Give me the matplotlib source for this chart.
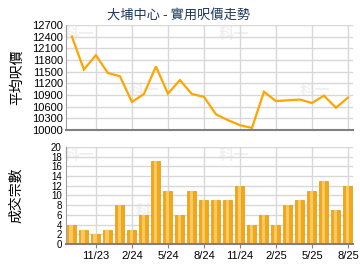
import matplotlib
matplotlib.use('Agg')
import matplotlib.pyplot as plt
import numpy as np

plt.rcParams['font.family'] = ['Liberation Sans', 'Noto Sans CJK TC', 'DejaVu Sans']

months = ['9/23', '10/23', '11/23', '12/23', '1/24', '2/24', '3/24', '4/24', '5/24', '6/24',
          '7/24', '8/24', '9/24', '10/24', '11/24', '12/24', '1/25', '2/25', '3/25', '4/25',
          '5/25', '6/25', '7/25', '8/25']
price = [12400, 11550, 11920, 11460, 11380, 10720, 10920, 11630, 10930, 11280,
         10920, 10850, 10400, 10250, 10120, 10050, 10980, 10740, 10760, 10780,
         10690, 10880, 10570, 10830]
deals = [4, 3, 2, 3, 8, 3, 6, 17, 11, 6, 11, 9, 9, 9, 12, 4, 6, 4, 8, 9, 11, 13, 7, 12]
tick_labels = ['11/23', '2/24', '5/24', '8/24', '11/24', '2/25', '5/25', '8/25']

x = np.arange(len(months))
tick_pos = [months.index(m) for m in tick_labels]

fig = plt.figure(figsize=(3.6, 2.7), dpi=100)
ax1 = fig.add_axes([0.183, 0.519, 0.797, 0.389])
ax2 = fig.add_axes([0.183, 0.096, 0.797, 0.360])

fig.text(0.497, 0.945, '大埔中心 - 實用呎價走勢', ha='center', va='center',
         fontsize=9.5, color='#1f3a5a', family=['Noto Sans CJK TC', 'DejaVu Sans'])

# faint watermarks, behind the axes
for wx, wy in [(0.22, 0.875), (0.65, 0.875), (0.40, 0.665), (0.875, 0.665),
               (0.22, 0.425), (0.65, 0.425), (0.42, 0.22), (0.88, 0.22)]:
    fig.text(wx, wy, '科一', fontsize=11, color='#f0f0f0', fontweight='bold',
             ha='center', va='center', family=['Noto Sans CJK TC'], zorder=-5)

for ax in (ax1, ax2):
    ax.patch.set_alpha(0)
    ax.set_xlim(-0.5, 23.4)
    ax.set_xticks(tick_pos)
    ax.grid(True, color='#d8d8d8', lw=1)
    ax.set_axisbelow(True)
    for s in ('top', 'right'):
        ax.spines[s].set_visible(False)
    ax.spines['left'].set_color('#a0a0a0')
    ax.spines['bottom'].set_color('#808080')
    ax.spines['bottom'].set_linewidth(1.5)
    ax.tick_params(axis='y', length=0, pad=2)
    ax.tick_params(axis='x', length=3, color='#808080', labelsize=8, pad=2)

ax1.plot(x, price, color='#FFA500', lw=1.6, solid_joinstyle='miter')
ax1.set_ylim(10000, 12700)
ax1.set_yticks(np.arange(10000, 12701, 300))
ax1.tick_params(axis='y', labelsize=8)
ax1.tick_params(axis='x', length=0, labelbottom=False)
ax1.set_ylabel('平均呎價', fontsize=10, family=['Noto Sans CJK TC'], labelpad=6)

ax2.bar(x, deals, width=0.75, color='#F0A818', edgecolor='#E8A020', lw=0.6)
ax2.bar(x - 0.05, deals, width=0.3, color='#FCD27A', lw=0, alpha=0.8)
ax2.set_ylim(0, 20)
ax2.set_yticks(np.arange(0, 21, 2))
ax2.tick_params(axis='y', labelsize=7, pad=3)
ax2.set_xticklabels(tick_labels)
ax2.set_ylabel('成交宗數', fontsize=10, family=['Noto Sans CJK TC'], labelpad=20)

fig.savefig('out.png', dpi=100)
